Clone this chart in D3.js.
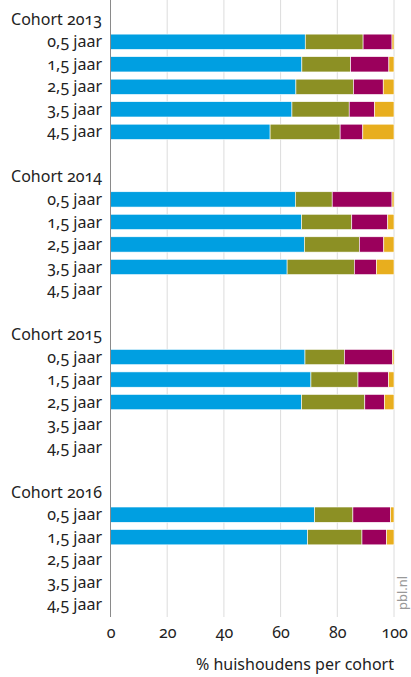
<!DOCTYPE html>
<html><head><meta charset="utf-8">
<script src="https://cdn.jsdelivr.net/npm/d3@7"></script>
<style>
html,body{margin:0;padding:0;background:#fff;}
svg{display:block;font-family:"Noto Sans",sans-serif;font-variant-numeric:oldstyle-nums;}
</style></head><body>
<svg id="chart" width="411" height="677"></svg>
<script>
const cohorts = ["Cohort 2013","Cohort 2014","Cohort 2015","Cohort 2016"];
const ages = ["0,5 jaar","1,5 jaar","2,5 jaar","3,5 jaar","4,5 jaar"];
const seriesKeys = ["s1","s2","s3","s4"];
const seriesColors = ["#009FE1","#8C9024","#9B005C","#E8AE1E"];
const xTicks = [0,20,40,60,80,100];
const axisTitle = "% huishoudens per cohort";
// values per cohort, per age: [s1, s2, s3, s4]; null = no data
const s1 = [[68.7,67.5,65.4,64.0,56.3],[65.2,67.4,68.4,62.3,null],[68.6,70.7,67.4,null,null],[72.0,69.5,null,null,null]];
const s2 = [[20.4,17.2,20.3,20.2,24.7],[13.0,17.7,19.4,23.7,null],[13.9,16.6,22.3,null,null],[13.5,19.2,null,null,null]];
const s3 = [[10.2,13.5,10.5,9.0,8.0],[21.1,12.7,8.6,7.8,null],[16.9,10.8,6.9,null,null],[13.3,8.7,null,null,null]];
const s4 = [[0.7,1.8,3.8,6.8,11.0],[0.7,2.2,3.6,6.2,null],[0.6,1.9,3.4,null,null],[1.2,2.6,null,null,null]];

// build rows
const rows = [];
cohorts.forEach((c,ci)=>{
  if(ci>0) rows.push({id:"gap"+ci,type:"gap"});
  rows.push({id:"h"+ci,type:"head",label:c});
  ages.forEach((a,ai)=>{
    const vals=[s1[ci][ai],s2[ci][ai],s3[ci][ai],s4[ci][ai]];
    rows.push({id:"r"+ci+"_"+ai,type:"bar",label:a,vals:vals[0]==null?null:vals});
  });
});

const svg = d3.select("#chart");
const x = d3.scaleLinear().domain([0,100]).range([110.5,394]);
const y = d3.scaleBand().domain(rows.map(r=>r.id)).range([8,616]).paddingInner(0.32).paddingOuter(0.16);

// gridlines
svg.append("g").selectAll("line").data(xTicks.filter(t=>t>0)).join("line")
  .attr("x1",d=>x(d)).attr("x2",d=>x(d)).attr("y1",0).attr("y2",617)
  .attr("stroke","#dcdcdc").attr("stroke-width",1);

// bars
const barRows = rows.filter(r=>r.type==="bar" && r.vals);
const stackData = barRows.map(r=>{const o={id:r.id}; seriesKeys.forEach((k,i)=>o[k]=r.vals[i]); return o;});
const stack = d3.stack().keys(seriesKeys)(stackData);
svg.append("g").selectAll("g").data(stack).join("g").attr("fill",(d,i)=>seriesColors[i])
  .selectAll("rect").data(d=>d).join("rect")
  .attr("x",d=>x(d[0])).attr("width",d=>x(d[1])-x(d[0]))
  .attr("y",d=>y(d.data.id)).attr("height",y.bandwidth())
  .attr("stroke","#fff").attr("stroke-width",0.6);

// axis line
svg.append("line").attr("x1",110.5).attr("x2",110.5).attr("y1",0).attr("y2",617)
  .attr("stroke","#8a8a8a").attr("stroke-width",1);

// row labels
svg.append("g").selectAll("text").data(rows.filter(r=>r.type!=="gap")).join("text")
  .attr("x",102).attr("y",d=>y(d.id)+y.bandwidth()/2).attr("dy","0.35em")
  .attr("text-anchor","end").attr("font-size",16).attr("fill","#222")
  .text(d=>d.label);

// x axis ticks
const xAxis = d3.axisBottom(x).tickValues(xTicks).tickSize(0).tickPadding(0);
const gx = svg.append("g").attr("transform","translate(0,627)").call(xAxis);
gx.select(".domain").remove();
gx.selectAll("text").attr("font-size",16).attr("fill","#222").attr("font-family","Noto Sans, sans-serif").attr("dy","0.71em");

svg.append("text").attr("x",394).attr("y",670).attr("text-anchor","end")
  .attr("font-size",16).attr("fill","#222").text(axisTitle);

svg.append("text").attr("transform","translate(407,610) rotate(-90)")
  .attr("font-size",13).attr("fill","#999").text("pbl.nl");
</script></body></html>
